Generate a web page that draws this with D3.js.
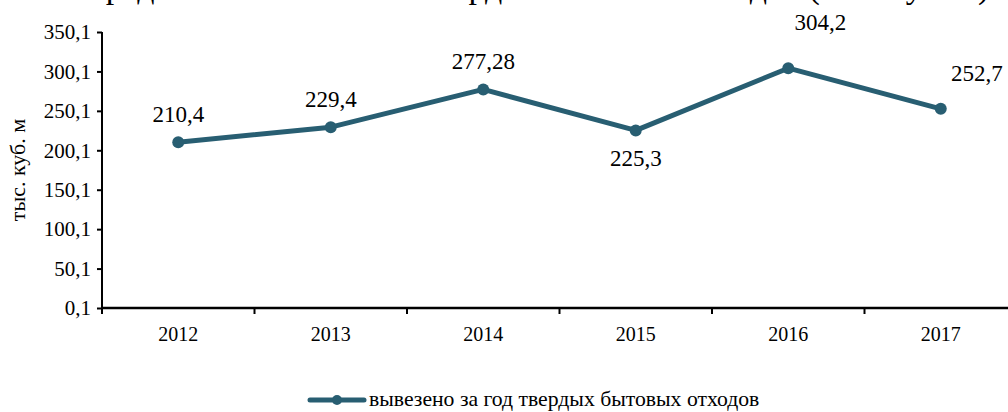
<!DOCTYPE html>
<html lang="ru">
<head>
<meta charset="utf-8">
<script src="https://cdn.jsdelivr.net/npm/d3@7"></script>
<style>
  html, body { margin: 0; padding: 0; background: #ffffff; }
  svg { display: block; }
  text { font-family: "Liberation Serif", "Times New Roman", serif; fill: #000; }
</style>
</head>
<body>
<div id="chart"></div>
<script>
// Вывоз твердых бытовых отходов по годам, тыс. куб. м
const years = ["2012", "2013", "2014", "2015", "2016", "2017"];
const volumes = [210.4, 229.4, 277.28, 225.3, 304.2, 252.7];
const valueLabels = ["210,4", "229,4", "277,28", "225,3", "304,2", "252,7"];
const labelPlacement = ["above", "above", "above", "below", "aboveRight", "right"];
const yTicks = [0.1, 50.1, 100.1, 150.1, 200.1, 250.1, 300.1, 350.1];
const seriesName = "вывезено за год твердых бытовых отходов";
const axisTitle = "тыс. куб. м";
const chartTitle = "Средний объем вывоза твердых бытовых отходов (тыс. куб. м)";

const W = 1008, H = 412;
const margin = { left: 102, top: 32, bottom: 104 };
const color = "#285e72";

const svg = d3.select("#chart").append("svg")
  .attr("width", W).attr("height", H);

// Заголовок, уходящий за верхний край
svg.append("text")
  .attr("x", 83).attr("y", -2)
  .style("font-size", "34px")
  .text(chartTitle);

const x = d3.scaleBand()
  .domain(years)
  .range([margin.left, margin.left + 152.5 * years.length])
  .paddingInner(0).paddingOuter(0);

const y = d3.scaleLinear()
  .domain([0.1, 350.1])
  .range([H - margin.bottom, margin.top]);

const fmt = d => d3.format(".1f")(d).replace(".", ",");

// Ось Y
const yAxis = svg.append("g")
  .attr("transform", `translate(${margin.left},0)`)
  .call(d3.axisLeft(y).tickValues(yTicks).tickFormat(fmt).tickSize(5).tickPadding(6));
yAxis.select(".domain").attr("stroke", "#000").attr("stroke-width", 2).attr("d",
  `M0,${y(0.1)}V${y(350.1)}`);
yAxis.selectAll(".tick line").attr("stroke", "#000").attr("stroke-width", 2);
yAxis.selectAll(".tick text")
  .style("font-size", "21px")
  .style("font-family", "Liberation Serif, serif")
  .attr("fill", "#000");

// Ось X
const xAxis = svg.append("g")
  .attr("transform", `translate(0,${y(0.1)})`)
  .call(d3.axisBottom(x).tickSize(0).tickPadding(19));
xAxis.select(".domain").attr("stroke", "#000").attr("stroke-width", 2.5)
  .attr("d", `M${margin.left},0H${W}`);
xAxis.selectAll(".tick text")
  .style("font-size", "20px")
  .style("font-family", "Liberation Serif, serif")
  .attr("fill", "#000");
// Разделители категорий
const bounds = years.map(d => x(d)).concat([x(years[years.length - 1]) + x.bandwidth()]);
svg.append("g").selectAll("line")
  .data(bounds.filter(b => b <= W))
  .join("line")
  .attr("x1", d => d).attr("x2", d => d)
  .attr("y1", y(0.1)).attr("y2", y(0.1) + 6)
  .attr("stroke", "#000").attr("stroke-width", 2);

// Подпись оси Y
svg.append("text")
  .attr("transform", `translate(25,${(y(0.1) + y(350.1)) / 2}) rotate(-90)`)
  .attr("text-anchor", "middle")
  .style("font-size", "22px")
  .text(axisTitle);

// Линия ряда
const cx = d => x(d) + x.bandwidth() / 2;
const line = d3.line()
  .x((d, i) => cx(years[i]))
  .y(d => y(d));

svg.append("path")
  .datum(volumes)
  .attr("d", line)
  .attr("fill", "none")
  .attr("stroke", color)
  .attr("stroke-width", 5)
  .attr("stroke-linejoin", "round");

svg.append("g").selectAll("circle")
  .data(volumes)
  .join("circle")
  .attr("cx", (d, i) => cx(years[i]))
  .attr("cy", d => y(d))
  .attr("r", 6)
  .attr("fill", color);

// Подписи значений
const offsets = {
  above: { dx: 0, dy: -20 },
  below: { dx: 0, dy: 36 },
  aboveRight: { dx: 32, dy: -38 },
  right: { dx: 36, dy: -28 }
};
svg.append("g").selectAll("text")
  .data(volumes)
  .join("text")
  .attr("x", (d, i) => cx(years[i]) + offsets[labelPlacement[i]].dx)
  .attr("y", (d, i) => y(d) + offsets[labelPlacement[i]].dy)
  .attr("text-anchor", "middle")
  .style("font-size", "23px")
  .text((d, i) => valueLabels[i]);

// Легенда
const lg = svg.append("g").attr("transform", "translate(310,400)");
lg.append("line")
  .attr("x1", 0).attr("x2", 54).attr("y1", 0).attr("y2", 0)
  .attr("stroke", color).attr("stroke-width", 5).attr("stroke-linecap", "round");
lg.append("circle").attr("cx", 27).attr("cy", 0).attr("r", 5).attr("fill", color);
lg.append("text")
  .attr("x", 59).attr("y", 6)
  .style("font-size", "21.7px")
  .text(seriesName);
</script>
</body>
</html>
